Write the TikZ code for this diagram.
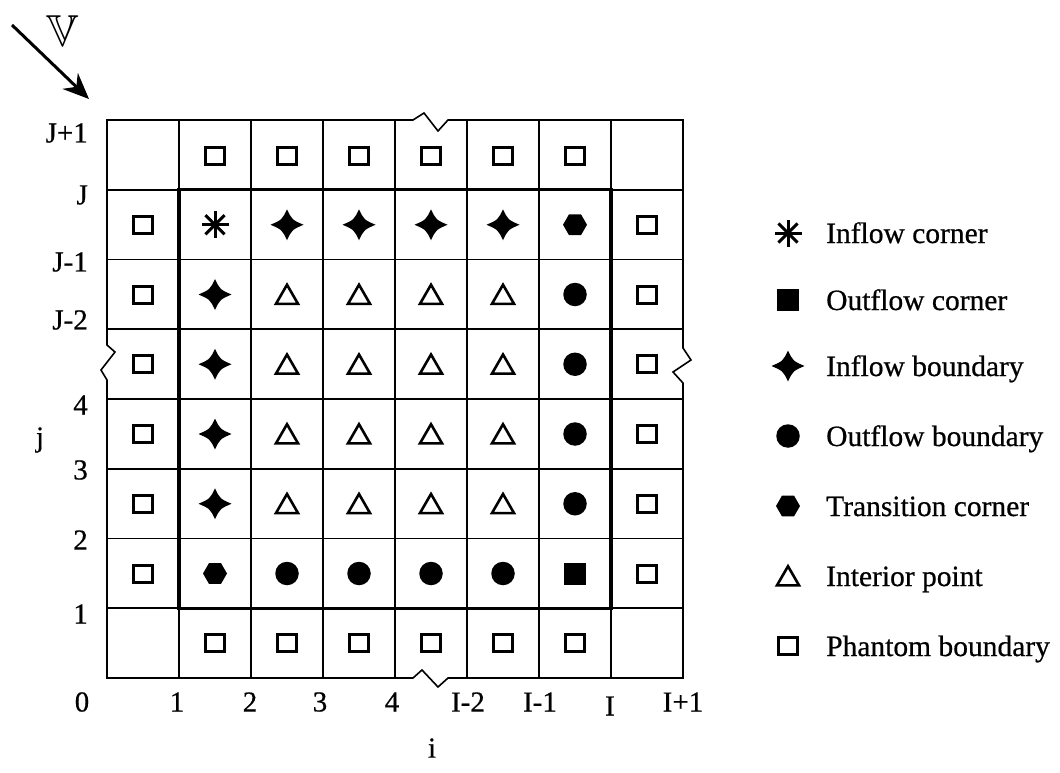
\documentclass[tikz,border=0pt]{standalone}
\usepackage{fontspec}
\setmainfont{Liberation Serif}[UprightFeatures={FakeBold=0.6}]
\usepackage{amssymb}
\usepackage{graphicx}
\usetikzlibrary{arrows.meta,shapes.geometric}
\begin{document}
\begin{tikzpicture}[x=1pt,y=-1pt,
  gridline/.style={line width=1.6pt},
  frameline/.style={line width=3.2pt},
  lbl/.style={font=\fontsize{29}{34}\selectfont, inner sep=0pt},
  leg/.style={font=\fontsize{29.5}{34}\selectfont, inner sep=0pt, anchor=base west},
  ph/.style={draw, line width=3pt, minimum width=19pt, minimum height=17pt, inner sep=0pt},
  fsq/.style={fill, minimum size=22pt, inner sep=0pt},
  circ/.style={circle, fill, minimum size=23.5pt, inner sep=0pt},
  hexa/.style={regular polygon, regular polygon sides=6, fill, minimum size=24pt, inner sep=0pt},
  tri/.style={regular polygon, regular polygon sides=3, draw, line width=2.6pt, minimum size=25.5pt, inner sep=0pt},
  fourstar/.pic={\fill (0,-15.5) .. controls (5,-5) .. (16.5,0) .. controls (5,5) .. (0,15.5) .. controls (-5,5) .. (-16.5,0) .. controls (-5,-5) .. (0,-15.5) -- cycle;},
  asterisk/.pic={\foreach \a in {0,45,...,315} \draw[line width=3pt] (0,0) -- (\a:13.5);}
]
\useasboundingbox (0,0) rectangle (1060,773);

% grid
\foreach \k in {1,...,7} \draw[gridline] ({107+72*\k},120) -- ({107+72*\k},678);
\foreach \m in {1,...,7} \draw[gridline] (107,{120+69.75*\m}) -- (683,{120+69.75*\m});
\draw[gridline, line join=miter] (107,120) -- (413,120) -- (424,113) -- (438,131) -- (448,120) -- (683,120)
  -- (683,348) -- (691,360) -- (673,372) -- (683,383) -- (683,678)
  -- (448,678) -- (438,687) -- (422,670) -- (413,678) -- (107,678)
  -- (107,380) -- (101,370) -- (115,352) -- (107,345) -- cycle;
\draw[frameline] (179,189.75) rectangle (611,608.25);

% markers
\foreach \c in {1,...,6} {
  \node[ph] (s0\c) at ({143+72*\c},156) {};
  \node[ph] (s7\c) at ({143+72*\c},643.25) {};
}
\foreach \r in {1,...,6} {
  \node[ph] (s\r0) at (143,{155+69.75*\r}) {};
  \node[ph] (s\r7) at (647,{155+69.75*\r}) {};
}
\pic (s11) at (215,224.75) {asterisk};
\foreach \c in {2,...,5} \pic (s1\c) at ({143+72*\c},224.75) {fourstar};
\node[hexa] (s16) at (575,224.75) {};
\foreach \r in {2,...,5} {
  \pic (s\r1) at (215,{155+69.75*\r}) {fourstar};
  \foreach \c in {2,...,5} \node[tri] (s\r\c) at ({143+72*\c},{158+69.75*\r}) {};
  \node[circ] (s\r6) at (575,{155+69.75*\r}) {};
}
\node[hexa] (s61) at (215,573.5) {};
\foreach \c in {2,...,5} \node[circ] (s6\c) at ({143+72*\c},573.5) {};
\node[fsq] (s66) at (575,573.5) {};

% row labels
\node[lbl, anchor=east] (rJp) at (88,133) {J+1};
\node[lbl, anchor=east] (rJ) at (88,195) {J};
\node[lbl, anchor=east] (rJm1) at (88,262) {J-1};
\node[lbl, anchor=east] (rJm2) at (88,320) {J-2};
\node[lbl, anchor=east] (r4) at (88,405) {4};
\node[lbl, anchor=east] (r3) at (88,470) {3};
\node[lbl, anchor=east] (r2) at (88,540) {2};
\node[lbl, anchor=east] (r1) at (88,614) {1};
\node[lbl] (jlab) at (40,440) {j};

% column labels
\node[lbl] (c0) at (82,702) {0};
\node[lbl] (c1) at (177,702) {1};
\node[lbl] (c2) at (250,702) {2};
\node[lbl] (c3) at (320,702) {3};
\node[lbl] (c4) at (392,702) {4};
\node[lbl] (cIm2) at (468,702) {I-2};
\node[lbl] (cIm1) at (540,702) {I-1};
\node[lbl] (cI) at (610,706) {I};
\node[lbl] (cIp1) at (683,702) {I+1};
\node[lbl] (ilab) at (432,748) {i};

% velocity arrow
\node[inner sep=0pt] (V) at (63,31) {\scalebox{1.8}{\fontsize{24.88}{28}\selectfont$\mathbb{V}$}};
\coordinate (a0) at (12,25);
\coordinate (a1) at (89,99);
\draw[line width=3pt, -{Stealth[length=26pt,width=22pt]}] (a0) -- (a1);

% legend
\pic (l1) at (788,233) {asterisk};
\node[leg] (t1) at (826,243) {Inflow corner};
\node[fsq] (l2) at (788,300) {};
\node[leg] (t2) at (826,310) {Outflow corner};
\pic (l3) at (788,366) {fourstar};
\node[leg] (t3) at (826,376) {Inflow boundary};
\node[circ] (l4) at (788,436) {};
\node[leg] (t4) at (826,446) {Outflow boundary};
\node[hexa] (l5) at (788,506) {};
\node[leg] (t5) at (826,516) {Transition corner};
\node[tri] (l6) at (788,579) {};
\node[leg] (t6) at (826,586) {Interior point};
\node[ph] (l7) at (788,646) {};
\node[leg] (t7) at (826,656) {Phantom boundary};
\end{tikzpicture}
\end{document}
